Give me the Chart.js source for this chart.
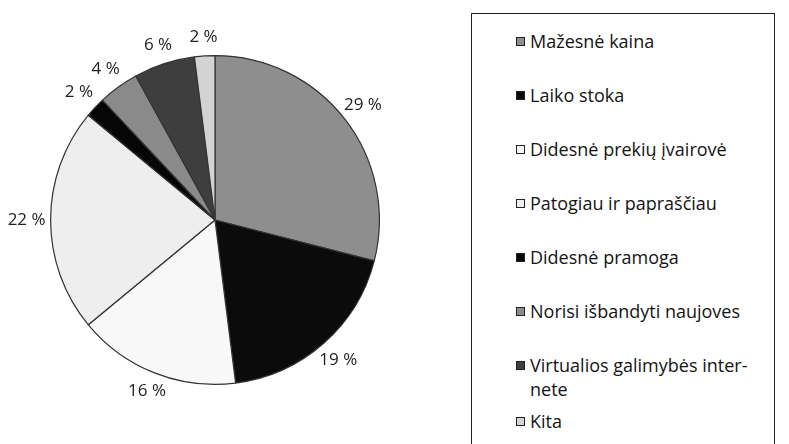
<!DOCTYPE html>
<html>
<head>
<meta charset="utf-8">
<script src="https://cdn.jsdelivr.net/npm/chart.js@4"></script>
<style>
  body { margin: 0; background: #ffffff; width: 789px; height: 444px; overflow: hidden; position: relative; font-family: "Open Sans", sans-serif; }
  #wrap { position: absolute; left: 0; top: 0; width: 430px; height: 440px; }
  #legend { position: absolute; left: 471px; top: 13px; width: 304px; height: 440px; border: 1px solid #222; box-sizing: border-box; padding-top: 15px; }
  #legend ul { list-style: none; margin: 0; padding: 0 0 0 44px; }
  #legend li { position: relative; font-size: 18px; line-height: 24px; color: #141414; margin-bottom: 30px; padding-left: 14px; white-space: pre-line; }
  #legend li.tight { margin-bottom: 8px; }
  #legend li span.box { position: absolute; left: 0; top: 8px; width: 7px; height: 7px; border: 1px solid #222; }
</style>
</head>
<body>
<div id="wrap"><canvas id="myChart"></canvas></div>
<div id="legend"></div>
<script>
// data
var labels = ['Mažesnė kaina', 'Laiko stoka', 'Didesnė prekių įvairovė', 'Patogiau ir papraščiau',
              'Didesnė pramoga', 'Norisi išbandyti naujoves', 'Virtualios galimybės inter-\nnete', 'Kita'];
var values = [29, 19, 16, 22, 2, 4, 6, 2];
var colors = ['#8e8e8e', '#0b0b0b', '#f8f8f8', '#eeeeee', '#060606', '#8a8a8a', '#3e3e3e', '#d3d3d3'];

// percent labels outside of the slices
var outsideLabels = {
    id: 'outsideLabels',
    afterDatasetsDraw: function(chart) {
        var ctx = chart.ctx;
        var meta = chart.getDatasetMeta(0);
        ctx.save();
        ctx.font = '17px "Open Sans"';
        ctx.fillStyle = '#222222';
        ctx.textAlign = 'center';
        ctx.textBaseline = 'middle';
        meta.data.forEach(function(arc, i) {
            var p = arc.getProps(['x', 'y', 'startAngle', 'endAngle', 'outerRadius'], true);
            var mid = (p.startAngle + p.endAngle) / 2;
            var txt = values[i] + ' %';
            var d = p.outerRadius + 18 + Math.abs(Math.cos(mid)) * 6;
            ctx.fillText(txt, p.x + Math.cos(mid) * d, p.y + Math.sin(mid) * d);
        });
        ctx.restore();
    }
};

// html legend built from the chart's own legend items
var htmlLegend = {
    id: 'htmlLegend',
    afterUpdate: function(chart) {
        var items = chart.options.plugins.legend.labels.generateLabels(chart);
        var ul = document.createElement('ul');
        items.forEach(function(item, i) {
            var li = document.createElement('li');
            if (labels[i].indexOf('\n') >= 0) li.className = 'tight';
            var box = document.createElement('span');
            box.className = 'box';
            box.style.background = item.fillStyle;
            li.appendChild(box);
            li.appendChild(document.createTextNode(item.text));
            ul.appendChild(li);
        });
        var el = document.getElementById('legend');
        el.innerHTML = '';
        el.appendChild(ul);
    }
};

var ctx = document.getElementById('myChart').getContext('2d');
var chart = new Chart(ctx, {
    type: 'pie',
    data: {
        labels: labels,
        datasets: [{
            data: values,
            backgroundColor: colors,
            borderColor: '#333333',
            borderWidth: 1.2
        }]
    },
    options: {
        responsive: true,
        maintainAspectRatio: false,
        animation: false,
        layout: { padding: { left: 50, right: 50, top: 55, bottom: 55 } },
        plugins: {
            legend: { display: false },
            tooltip: { enabled: false }
        }
    },
    plugins: [outsideLabels, htmlLegend]
});
</script>
</body>
</html>
